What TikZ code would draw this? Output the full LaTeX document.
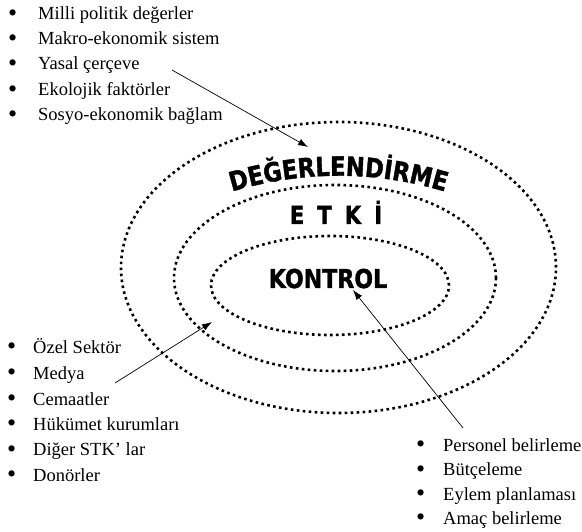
\documentclass[tikz,border=0pt]{standalone}
\usepackage{fontspec}
\setmainfont{Liberation Serif}
\newfontfamily\heavy{DejaVu Sans}[FakeStretch=0.85, FakeBold=1.4]
\usetikzlibrary{decorations.text,arrows.meta}
\tikzset{
  ring/.style={line width=2.6pt, dash pattern=on 2.6pt off 3.4pt},
  arr/.style={-{Latex[length=10pt,width=7pt]}, line width=0.7pt},
  item/.style={anchor=base west, inner sep=0pt, font=\fontsize{18.5}{20}\selectfont},
  bigword/.style={anchor=base, inner sep=0pt, font=\heavy\bfseries\fontsize{25}{25}\selectfont},
}
\newcommand{\bl}[1]{\llap{\raisebox{-1.8pt}{\fontsize{26}{26}\selectfont\textbullet}\hspace{#1}}}
\begin{document}
\begin{tikzpicture}[x=1pt,y=-1pt]
\useasboundingbox (0,0) rectangle (582,532);
% rings
\draw[ring] (338.5,267.5) ellipse [x radius=217.5pt, y radius=145.5pt];
\draw[ring] (335,278) ellipse [x radius=161pt, y radius=93pt];
\draw[ring] (330,285.5) ellipse [x radius=119pt, y radius=49.5pt];
% ring titles
\path[decorate, decoration={text along path, text align=center,
  text={|\heavy\bfseries\fontsize{26.5}{27}\selectfont|DEĞERLENDİRME}}]
  (218,196) .. controls (298,169) and (379,169) .. (459,196);
\node[bigword] (etki) at (336,224) {E\hspace{13pt}T\hspace{13pt}K\hspace{13pt}İ};
\node[bigword, font=\heavy\bfseries\fontsize{26}{26}\selectfont] (kontrol) at (328,288) {KONTROL};
% top list
\node[item] (a1) at (38,20) {\bl{21pt}Milli politik değerler};
\node[item] (a2) at (38,45) {\bl{21pt}Makro-ekonomik sistem};
\node[item] (a3) at (38,70) {\bl{21pt}Yasal çerçeve};
\node[item] (a4) at (38,95.5) {\bl{21pt}Ekolojik faktörler};
\node[item] (a5) at (38,120.5) {\bl{21pt}Sosyo-ekonomik bağlam};
% bottom-left list
\node[item] (b1) at (33,353) {\bl{17pt}Özel Sektör};
\node[item] (b2) at (33,379) {\bl{17pt}Medya};
\node[item] (b3) at (33,405) {\bl{17pt}Cemaatler};
\node[item] (b4) at (33,430) {\bl{17pt}Hükümet kurumları};
\node[item] (b5) at (33,455.5) {\bl{17pt}Diğer STK’ lar};
\node[item] (b6) at (33,481) {\bl{17pt}Donörler};
% bottom-right list
\node[item] (c1) at (443,451) {\bl{18pt}Personel belirleme};
\node[item] (c2) at (443,475.5) {\bl{18pt}Bütçeleme};
\node[item] (c3) at (443,500) {\bl{18pt}Eylem planlaması};
\node[item] (c4) at (443,524) {\bl{18pt}Amaç belirleme};
% arrows
\coordinate (t1) at (172,70);  \coordinate (h1) at (308,147);
\coordinate (t2) at (115,383); \coordinate (h2) at (212,322);
\coordinate (t3) at (463,428); \coordinate (h3) at (353,290);
\draw[arr] (t1) -- (h1);
\draw[arr] (t2) -- (h2);
\draw[arr] (t3) -- (h3);
\end{tikzpicture}
\end{document}
